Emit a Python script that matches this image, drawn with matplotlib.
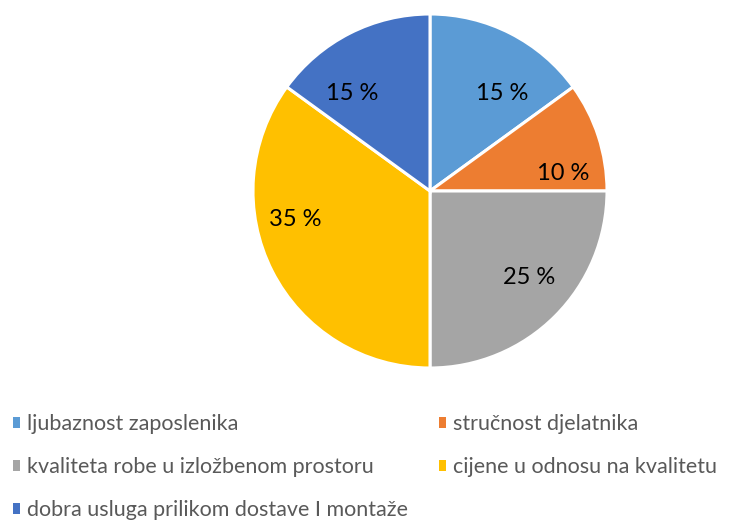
import matplotlib.pyplot as plt
from matplotlib.patches import Patch

# podaci
kategorije = ['ljubaznost zaposlenika', 'stručnost djelatnika',
              'kvaliteta robe u izložbenom prostoru', 'cijene u odnosu na kvalitetu',
              'dobra usluga prilikom dostave I montaže']
postoci = [15, 10, 25, 35, 15]
boje = ['#5B9BD5', '#ED7D31', '#A5A5A5', '#FFC000', '#4472C4']

# pozicije oznaka (Excel "best fit"), u jedinicama radijusa
oznake_xy = [(0.41, 0.55), (0.75, 0.10), (0.56, -0.49), (-0.76, -0.16), (-0.44, 0.55)]

plt.rcParams['font.family'] = ['Lato', 'DejaVu Sans']

fig = plt.figure(figsize=(7.33, 5.22), dpi=100)
ax = fig.add_axes([253 / 733, (522 - 368) / 522, 354 / 733, 354 / 522])

wedges, texts, autotexts = ax.pie(postoci, colors=boje, startangle=90, counterclock=False,
                                  autopct=lambda p: '%d %%' % round(p),
                                  wedgeprops=dict(edgecolor='white', linewidth=2.2),
                                  textprops=dict(fontsize=17, color='black'))
for t, xy in zip(autotexts, oznake_xy):
    t.set_position(xy)
ax.set_xlim(-1, 1)
ax.set_ylim(-1, 1)
ax.set_aspect('equal')

# legenda - redoslijed po redovima kao u Excelu
ručke = [Patch(facecolor=b) for b in boje]
red = [0, 2, 4, 1, 3]
fig.legend([ručke[i] for i in red], [kategorije[i] for i in red], ncol=2,
           loc='upper left', bbox_to_anchor=(2 / 733, 1 - 403 / 522),
           frameon=False, fontsize=15.5, handlelength=0.33, handleheight=0.4,
           handletextpad=0.35, labelspacing=1.08, columnspacing=1.4,
           labelcolor='#595959', borderpad=0)

fig.savefig('out.png', dpi=100)
